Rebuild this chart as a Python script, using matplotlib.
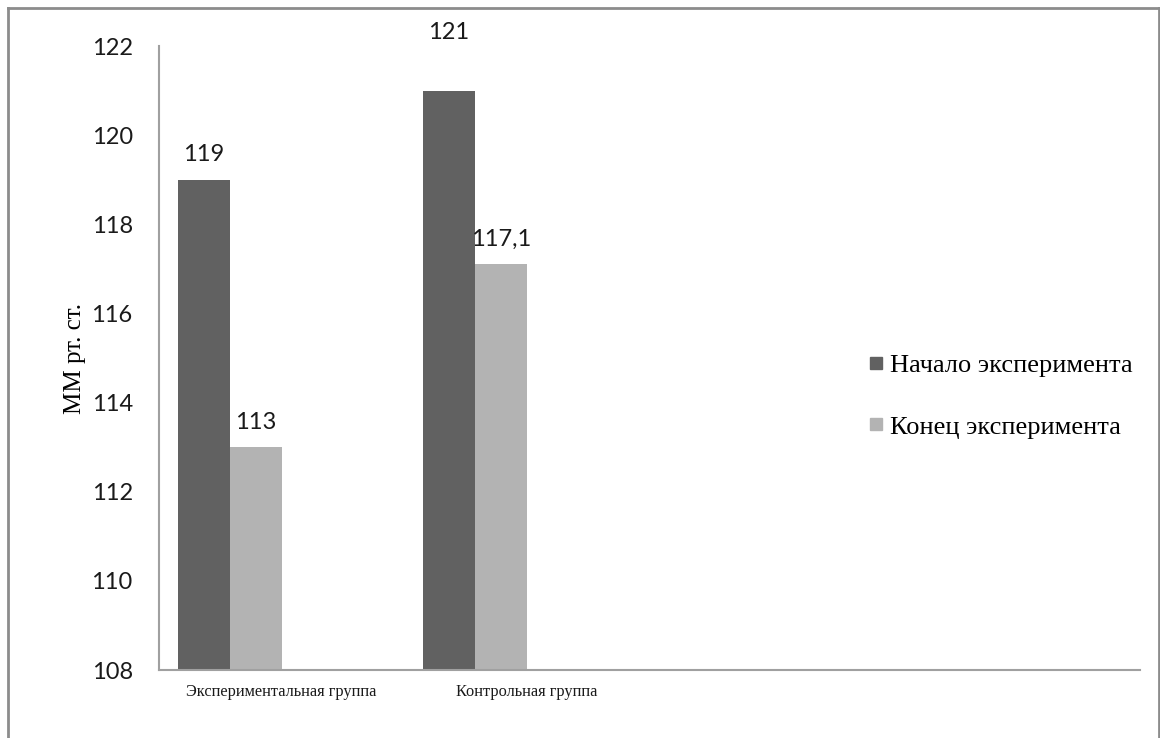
import matplotlib.pyplot as plt
import numpy as np
from matplotlib.lines import Line2D

# data
groups = ["Экспериментальная группа", "Контрольная группа"]
series_names = ["Начало эксперимента", "Конец эксперимента"]
start_values = [119, 121]
end_values = [113, 117.1]
start_labels = ["119", "121"]
end_labels = ["113", "117,1"]
y_ticks = [108, 110, 112, 114, 116, 118, 120, 122]

# style
DARK = "#616161"
LIGHT = "#b3b3b3"
AXIS_GREY = "#a0a0a0"
N_SLOTS = 4          # excel category/series slots (two are empty)
BAR_W = 0.212
SERIF = ["Liberation Serif", "DejaVu Serif"]
SANS = ["Lato", "DejaVu Sans"]

fig = plt.figure(figsize=(11.6, 7.38), dpi=100)
ax = fig.add_axes([0.1371, 0.0921, 0.8457, 0.8455])

x = np.arange(len(groups))
b1 = ax.bar(x - 1.5 * BAR_W, start_values, BAR_W, color=DARK, label=series_names[0])
b2 = ax.bar(x - 0.5 * BAR_W, end_values, BAR_W, color=LIGHT, label=series_names[1])

# value labels (the 121 label sits higher in the original)
start_offsets = [25, 58]
end_offsets = [25, 25]
for rect, txt, off in zip(b1, start_labels, start_offsets):
    ax.annotate(txt, (rect.get_x() + rect.get_width() / 2, rect.get_height()),
                xytext=(0, off * 72 / 100), textcoords="offset points",
                ha="center", va="center", fontsize=17, family=SANS, color="#1a1a1a",
                annotation_clip=False)
for rect, txt, off in zip(b2, end_labels, end_offsets):
    ax.annotate(txt, (rect.get_x() + rect.get_width() / 2, rect.get_height()),
                xytext=(0, off * 72 / 100), textcoords="offset points",
                ha="center", va="center", fontsize=17, family=SANS, color="#1a1a1a",
                annotation_clip=False)

ax.set_xlim(-0.5, N_SLOTS - 0.5)
ax.set_ylim(y_ticks[0], y_ticks[-1])
ax.set_yticks(y_ticks)
ax.set_xticks(x)
ax.set_xticklabels(groups, family=SERIF, fontsize=11.8)
for lab in ax.get_yticklabels():
    lab.set_family(SANS)
    lab.set_fontsize(17)
ax.tick_params(axis="y", length=0, pad=19, colors="#1a1a1a")
ax.tick_params(axis="x", length=0, pad=10, colors="#1a1a1a")

for side in ["top", "right"]:
    ax.spines[side].set_visible(False)
for side in ["left", "bottom"]:
    ax.spines[side].set_color(AXIS_GREY)
    ax.spines[side].set_linewidth(1.5)

ax.set_ylabel("ММ рт. ст.", family=SERIF, fontsize=18, labelpad=4)

handles = [Line2D([], [], marker="s", linestyle="none", markersize=8.5,
                  markerfacecolor=c, markeredgecolor=c) for c in (DARK, LIGHT)]
fig.legend(handles, series_names, loc="center left",
           bbox_to_anchor=(843 / 1160, 1 - 396 / 738), frameon=False,
           prop={"family": SERIF, "size": 19}, labelspacing=1.45,
           handlelength=0.7, handletextpad=0.2)

# outer chart frame (bottom edge is cut off in the original)
frame_kw = dict(transform=fig.transFigure, color="#8c8c8c", linewidth=2)
l, t, r = 8 / 1160, 1 - 8 / 738, 1159 / 1160
fig.add_artist(Line2D([l, l], [0, t], **frame_kw))
fig.add_artist(Line2D([l, r], [t, t], **frame_kw))
fig.add_artist(Line2D([r, r], [0, t], **frame_kw))

fig.savefig("out.png", dpi=100)
